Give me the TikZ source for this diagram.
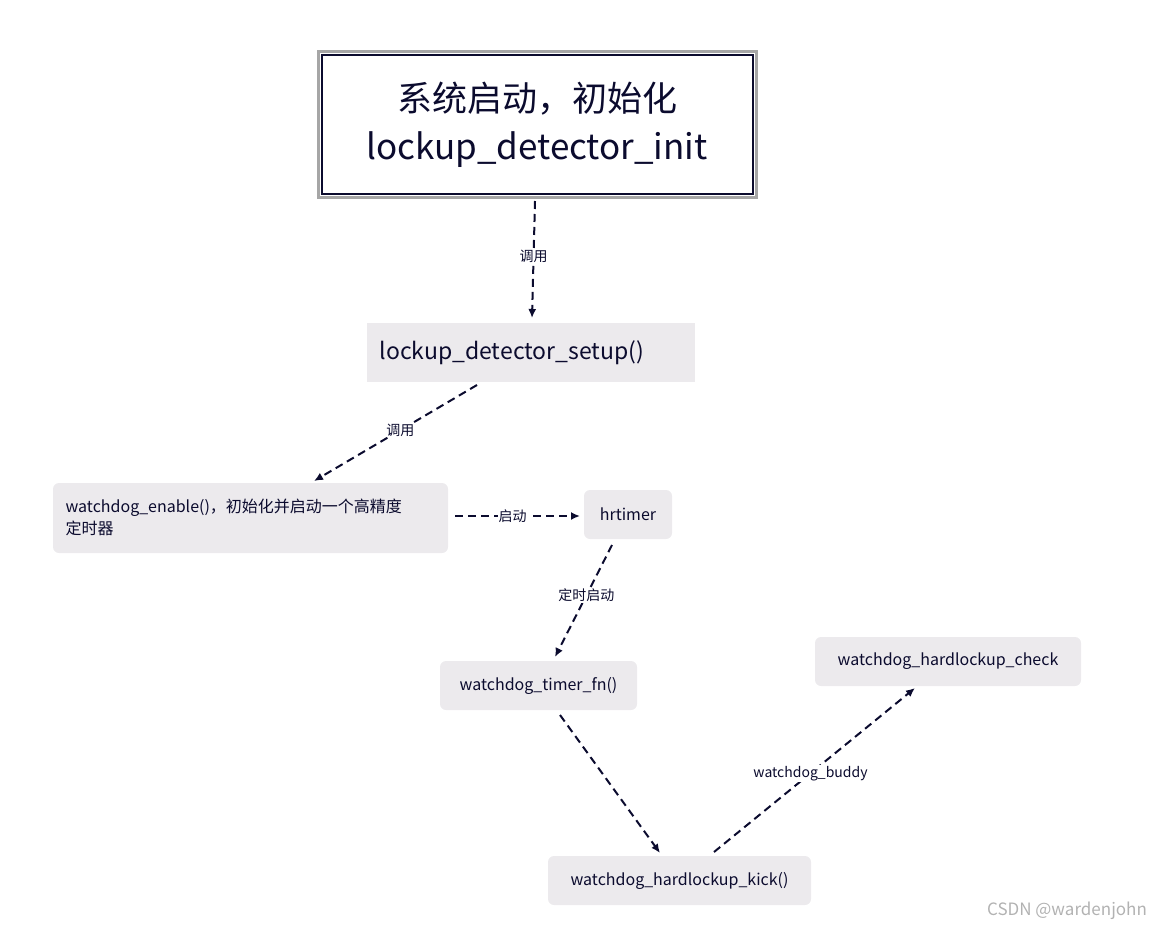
\documentclass[tikz,border=0pt]{standalone}
\usepackage{fontspec}
\setmainfont{Noto Sans CJK SC}
\usetikzlibrary{arrows.meta}
\definecolor{ink}{HTML}{0B0B2E}
\definecolor{boxc}{HTML}{ECEAED}
\begin{document}
\begin{tikzpicture}[x=1pt,y=-1pt,
  box/.style={fill=boxc,draw=none,rounded corners=6pt,inner sep=0pt,text=ink,font=\fontsize{16}{20}\selectfont},
  arr/.style={draw=ink,line width=2pt,dash pattern=on 8pt off 5pt,-{Latex[length=9pt,width=8pt]}},
  lab/.style={fill=white,inner sep=1pt,text=ink,font=\fontsize{14}{16}\selectfont}]
\useasboundingbox (0,0) rectangle (1167,931);
\node[draw=gray!70,line width=3pt,minimum width=438pt,minimum height=145pt,inner sep=0pt] (top) at (537,124.5) {};
\node[draw=ink,line width=2pt,minimum width=431pt,minimum height=138pt,align=center,text=ink,font=\fontsize{35}{48}\selectfont] (topi) at (537,124.5) {系统启动，初始化\\lockup\_detector\_init};
\node[box,rounded corners=0pt,minimum width=328pt,minimum height=59pt] (setup) at (531,352.5) {};
\node[anchor=west,text=ink,font=\fontsize{23}{26}\selectfont] at (376,352.5) {lockup\_detector\_setup()};
\node[box,minimum width=395pt,minimum height=70pt] (en) at (250.5,518) {};
\node[anchor=west,align=left,text=ink,font=\fontsize{16}{22}\selectfont] at (62,517) {watchdog\_enable()，初始化并启动一个高精度\\定时器};
\node[box,minimum width=88pt,minimum height=49pt] (hr) at (628,514.5) {hrtimer};
\node[box,minimum width=197pt,minimum height=49pt] (fn) at (538.5,685.5) {watchdog\_timer\_fn()};
\node[box,minimum width=263pt,minimum height=49pt] (kick) at (679.5,880.5) {watchdog\_hardlockup\_kick()};
\node[box,minimum width=266pt,minimum height=49pt] (chk) at (948,661.5) {watchdog\_hardlockup\_check};
\coordinate (a1) at (535,201); \coordinate (a2) at (532,318);
\draw[arr] (a1) -- node[lab,pos=0.47]{调用} (a2);
\coordinate (b1) at (477,385); \coordinate (b2) at (314,481);
\draw[arr] (b1) -- node[lab,pos=0.47]{调用} (b2);
\coordinate (c1) at (455,516); \coordinate (c2) at (580,516);
\draw[arr] (c1) -- node[lab,pos=0.46]{启动} (c2);
\coordinate (d1) at (612,545); \coordinate (d2) at (555,657);
\draw[arr] (d1) -- node[lab,pos=0.45]{定时启动} (d2);
\coordinate (e1) at (560,715); \coordinate (e2) at (660,853);
\draw[arr] (e1) -- (e2);
\coordinate (f1) at (714,852); \coordinate (f2) at (915,688);
\draw[arr] (f1) -- node[lab,pos=0.48]{watchdog\_buddy} (f2);
\node[text=gray!60,font=\fontsize{17}{20}\selectfont] (wm) at (1067,911) {CSDN @wardenjohn};
\end{tikzpicture}
\end{document}
